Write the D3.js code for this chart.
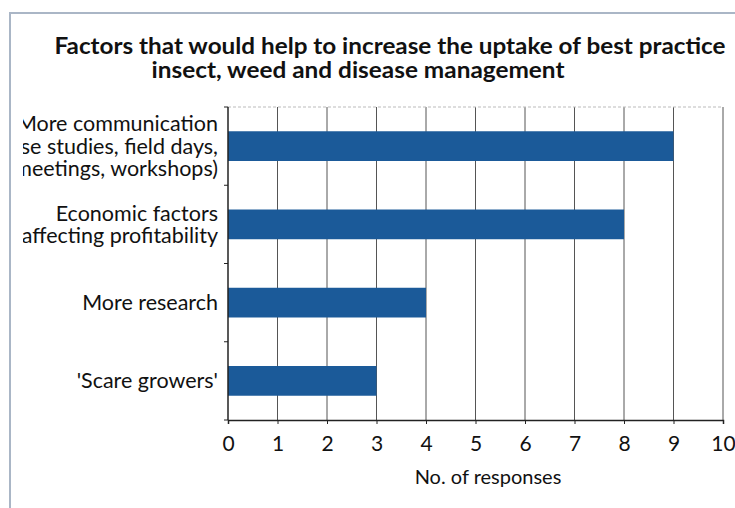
<!DOCTYPE html>
<html><head><meta charset="utf-8">
<script src="https://cdn.jsdelivr.net/npm/d3@7"></script>
<style>body{margin:0;background:#fff}svg{display:block}</style>
</head><body><svg id="c" width="735" height="508"></svg>
<script>
const categories = ["More communication", "Economic factors", "More research", "'Scare growers'"];
const labelLines = [
  ["More communication", "(case studies, field days,", "meetings, workshops)"],
  ["Economic factors", "affecting profitability"],
  ["More research"],
  ["'Scare growers'"]
];
const values = [9, 8, 4, 3];
const xTicks = [0,1,2,3,4,5,6,7,8,9,10];
const titleLines = ["Factors that would help to increase the uptake of best practice", "insect, weed and disease management"];
const xTitle = "No. of responses";

const svg = d3.select("#c");
const font = "Lato, 'Open Sans', sans-serif";
const L = 228, R = 723, T = 107, B = 420;

// frame (left and top edges visible)
svg.append("rect").attr("x",10).attr("y",13).attr("width",740).attr("height",520)
  .attr("fill","none").attr("stroke","#aab6c6").attr("stroke-width",2);

const x = d3.scaleLinear().domain([0,10]).range([L,R]);
const y = d3.scaleBand().domain(categories).range([T,B]).paddingInner(0.62).paddingOuter(0.31);
const yb = d3.scaleBand().domain(categories).range([T,B]);

// gridlines
svg.append("g").selectAll("line").data(xTicks.slice(1)).join("line")
  .attr("x1",d=>x(d)).attr("x2",d=>x(d)).attr("y1",T).attr("y2",B)
  .attr("stroke","#555").attr("stroke-width",1);
svg.append("line").attr("x1",L).attr("x2",R).attr("y1",T).attr("y2",T)
  .attr("stroke","#bbb").attr("stroke-dasharray","3,2");

// bars
svg.append("g").selectAll("rect").data(values).join("rect")
  .attr("x",x(0)).attr("y",(d,i)=>y(categories[i]))
  .attr("width",d=>x(d)-x(0)).attr("height",y.bandwidth())
  .attr("fill","#1b5a99");

// x axis
const xa = svg.append("g").attr("transform",`translate(0,${B})`)
  .call(d3.axisBottom(x).tickValues(xTicks).tickSize(4).tickFormat(d3.format("d")));
xa.select(".domain").attr("stroke","#222").attr("stroke-width",1.5);
xa.selectAll(".tick line").attr("stroke","#222");
xa.selectAll("text").attr("font-family",font).attr("font-size",21).attr("fill","#111").attr("dy","1.15em");

// y axis
const ya = svg.append("g").attr("transform",`translate(${L},0)`);
ya.append("line").attr("x1",0).attr("x2",0).attr("y1",T).attr("y2",B).attr("stroke","#222").attr("stroke-width",1.5);
ya.selectAll(".yt").data(categories.concat(["end"])).join("line").attr("class","yt")
  .attr("x1",-4).attr("x2",0)
  .attr("y1",(d,i)=> i<categories.length ? yb(d) : B)
  .attr("y2",(d,i)=> i<categories.length ? yb(d) : B)
  .attr("stroke","#222");

// labels, clipped at left by the frame
svg.append("clipPath").attr("id","lc").append("rect").attr("x",23).attr("y",0).attr("width",700).attr("height",508);
const lg = svg.append("g").attr("clip-path","url(#lc)");
labelLines.forEach((lines,i)=>{
  const cy = y(categories[i]) + y.bandwidth()/2;
  const lh = 22.5;
  lines.forEach((t,j)=>{
    lg.append("text").attr("x",218).attr("y",cy + (j-(lines.length-1)/2)*lh)
      .attr("dy","0.35em").attr("text-anchor","end")
      .attr("font-family",font).attr("font-size",21.5).attr("fill","#111").text(t);
  });
});

// title
svg.append("text").attr("x",390).attr("y",54).attr("text-anchor","middle")
  .attr("font-family",font).attr("font-weight","bold").attr("font-size",22).attr("fill","#111")
  .attr("textLength",671).attr("lengthAdjust","spacingAndGlyphs").text(titleLines[0]);
svg.append("text").attr("x",358).attr("y",78).attr("text-anchor","middle")
  .attr("font-family",font).attr("font-weight","bold").attr("font-size",22).attr("fill","#111")
  .attr("textLength",413).attr("lengthAdjust","spacingAndGlyphs").text(titleLines[1]);

// x title
svg.append("text").attr("x",488).attr("y",484).attr("text-anchor","middle")
  .attr("font-family",font).attr("font-size",20).attr("fill","#111").text(xTitle);
</script></body></html>
